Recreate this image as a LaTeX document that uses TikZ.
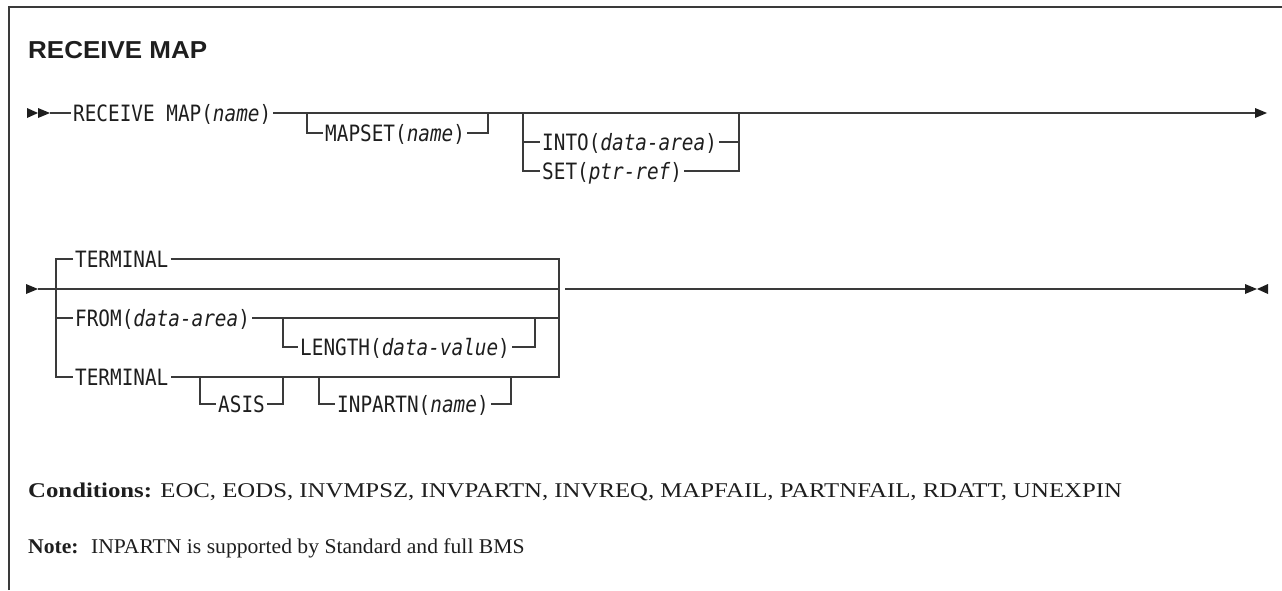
\documentclass[tikz,border=0pt]{standalone}
\usepackage{fontspec}
\newfontfamily\synfont[FakeStretch=0.86,ItalicFont={DejaVu Sans Mono Oblique}]{DejaVu Sans Mono}
\newfontfamily\titlefont[FakeStretch=1.06,BoldFont={Liberation Sans Bold}]{Liberation Sans}
\newfontfamily\condfont[FakeStretch=1.18,BoldFont={Liberation Serif Bold}]{Liberation Serif}
\newfontfamily\notefont[FakeStretch=1.03,BoldFont={Liberation Serif Bold}]{Liberation Serif}
\definecolor{railc}{HTML}{3A3A3A}
\definecolor{inkc}{HTML}{1E1E1E}
\tikzset{
  syn/.style={font=\synfont\fontsize{22.5}{26}\selectfont, text=inkc, inner xsep=2pt, inner ysep=0pt,
              text height=20.2pt, text depth=4pt, anchor=west},
  rail/.style={draw=railc, line width=1.3pt},
  tipfill/.style={fill=inkc, draw=none},
  framestyle/.style={draw=railc, line width=1.6pt},
  condstyle/.style={font=\condfont\fontsize{21}{25}\selectfont, text=inkc, inner sep=0pt, anchor=base west},
  notestyle/.style={font=\notefont\fontsize{21}{25}\selectfont, text=inkc, inner sep=0pt, anchor=base west},
  titlestyle/.style={font=\titlefont\bfseries\fontsize{24.5}{28}\selectfont, text=inkc, inner sep=0pt, anchor=base west}
}
\begin{document}
\begin{tikzpicture}[x=1pt,y=-1pt]
\useasboundingbox (0,0) rectangle (1282,590);
% frame
\coordinate (fb) at (9,590);
\coordinate (fc) at (9,7);
\coordinate (fr) at (1282,7);
\draw[framestyle] (fb) -- (fc) -- (fr);
\node[titlestyle] (title) at (28,58) {RECEIVE MAP};

% ---------- Row 1 ----------
\coordinate (r1s) at (50,113);
\coordinate (r1e) at (1255,113);
\fill[tipfill] (27,108) -- (38,113) -- (27,118) -- cycle;
\fill[tipfill] (38,108) -- (50,113) -- (38,118) -- cycle;
\fill[tipfill] (1255,108) -- (1267,113) -- (1255,118) -- cycle;
\node[syn] (rm) at (71,113) {RECEIVE MAP(\textit{name})};
\draw[rail] (r1s) -- (rm.west);
\draw[rail] (rm.east) -- (r1e);
% MAPSET
\coordinate (ms1) at (307,113);
\coordinate (ms2) at (488,113);
\node[syn] (mapset) at (323,133) {MAPSET(\textit{name})};
\draw[rail] (ms1) |- (mapset.west);
\draw[rail] (mapset.east) -| (ms2);
% INTO / SET
\coordinate (is1) at (523,113);
\coordinate (is2) at (739,113);
\node[syn] (into) at (540,142) {INTO(\textit{data-area})};
\node[syn] (set) at (540,171) {SET(\textit{ptr-ref})};
\draw[rail] (is1) |- (set.west);
\draw[rail] (is1 |- into.west) -- (into.west);
\draw[rail] (into.east) -- (is2 |- into.east);
\draw[rail] (set.east) -| (is2);

% ---------- Row 2 ----------
\coordinate (r2s) at (38,289);
\coordinate (r2e) at (1245,289);
\fill[tipfill] (26,284) -- (38,289) -- (26,294) -- cycle;
\fill[tipfill] (1245,284) -- (1257,289) -- (1245,294) -- cycle;
\fill[tipfill] (1268,284) -- (1257,289) -- (1268,294) -- cycle;
\coordinate (lt) at (56,259);
\coordinate (lb) at (56,377);
\coordinate (rt) at (559,259);
\coordinate (rb) at (559,377);
\node[syn] (t1) at (73,259) {TERMINAL};
\node[syn] (from) at (73,318) {FROM(\textit{data-area})};
\node[syn] (t2) at (73,377) {TERMINAL};
\draw[rail] (t1.west) -- (lt) -- (lb) -- (t2.west);
\draw[rail] (lt |- from.west) -- (from.west);
\draw[rail] (t1.east) -- (rt) -- (rb) -- (t2.east);
\draw[rail] (from.east) -- (rt |- from.east);
% main line
\coordinate (gr) at (559,289);
\coordinate (d1) at (565,289);
\coordinate (d2) at (589,289);
\draw[rail] (r2s) -- (gr);
\draw[rail, line width=2.2pt] (d1) -- (d2);
\draw[rail] (d2) -- (r2e);
% LENGTH
\coordinate (lg1) at (283,318);
\coordinate (lg2) at (535,318);
\node[syn] (len) at (298,347) {LENGTH(\textit{data-value})};
\draw[rail] (lg1) |- (len.west);
\draw[rail] (len.east) -| (lg2);
% ASIS
\coordinate (as1) at (200,377);
\coordinate (as2) at (283,377);
\node[syn] (asis) at (216,404) {ASIS};
\draw[rail] (as1) |- (asis.west);
\draw[rail] (asis.east) -| (as2);
% INPARTN
\coordinate (ip1) at (319,377);
\coordinate (ip2) at (511,377);
\node[syn] (inp) at (335,404) {INPARTN(\textit{name})};
\draw[rail] (ip1) |- (inp.west);
\draw[rail] (inp.east) -| (ip2);

% ---------- Notes ----------
\node[condstyle] (cond) at (28,497) {\textbf{Conditions:} EOC, EODS, INVMPSZ, INVPARTN, INVREQ, MAPFAIL, PARTNFAIL, RDATT, UNEXPIN};
\node[notestyle] (note) at (28,553) {\textbf{Note:}\hspace{0.25em} INPARTN is supported by Standard and full BMS};
\end{tikzpicture}
\end{document}
